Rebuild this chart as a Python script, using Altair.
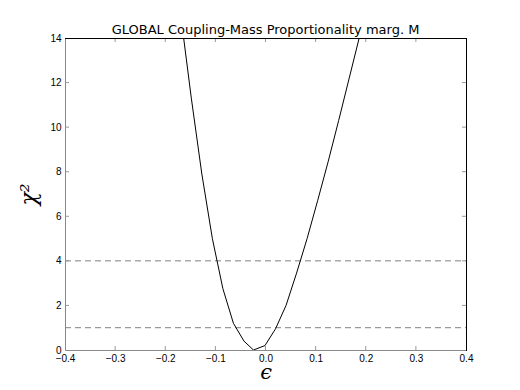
import altair as alt
import pandas as pd

# Curve samples (epsilon, chi^2)
eps = [-0.169, -0.148, -0.127, -0.106, -0.085, -0.064, -0.043, -0.024, -0.001,
       0.020, 0.041, 0.062, 0.083, 0.104, 0.125, 0.146, 0.167, 0.188, 0.209]
chi2 = [15.0, 11.3, 7.9, 5.0, 2.75, 1.2, 0.4, 0.0, 0.2,
        0.95, 2.0, 3.45, 5.0, 6.7, 8.45, 10.3, 12.2, 14.1, 16.0]

levels = [1, 4]
x_ticks = [-0.4, -0.3, -0.2, -0.1, 0.0, 0.1, 0.2, 0.3, 0.4]
y_ticks = [0, 2, 4, 6, 8, 10, 12, 14]
x_inner = [-0.3, -0.2, -0.1, 0.0, 0.1, 0.2, 0.3]
y_inner = [2, 4, 6, 8, 10, 12]

W, H = 401, 312
TL = 4

curve_df = pd.DataFrame({"eps": eps, "chi2": chi2})
lev_df = pd.DataFrame({"chi2": levels})
xt_df = pd.DataFrame({"eps": x_inner})
yt_df = pd.DataFrame({"chi2": y_inner})

xscale = alt.Scale(domain=[-0.4, 0.4], nice=False, zero=False)
yscale = alt.Scale(domain=[0, 14], nice=False, zero=False)

xaxis = alt.Axis(values=x_ticks, format=".1f", labelFlush=False, labelOverlap=False,
                 ticks=False, grid=False, title="ϵ", titleFont="DejaVu Serif",
                 titleFontStyle="italic", titleFontWeight="normal", titleFontSize=21,
                 titleX=W / 2, titleY=28, titleBaseline="alphabetic", titleAlign="center",
                 labelPadding=3)
yaxis = alt.Axis(values=y_ticks, format="d", labelOverlap=False, ticks=False, grid=False,
                 title="χ²", titleFont="DejaVu Serif", titleFontStyle="italic",
                 titleFontWeight="normal", titleFontSize=22, titleAngle=270,
                 titleX=-30, titleY=H / 2, titleAlign="center", titleBaseline="alphabetic",
                 labelPadding=4)

X = lambda: alt.X("eps:Q", scale=xscale, axis=xaxis)
Y = lambda: alt.Y("chi2:Q", scale=yscale, axis=yaxis)

hlines = alt.Chart(lev_df).mark_rule(color="#808080", strokeDash=[6, 4], strokeWidth=1).encode(
    y=Y(), x=alt.value(0), x2=alt.value(W))

line = alt.Chart(curve_df).mark_line(color="black", strokeWidth=1, clip=True).encode(
    x=X(), y=Y())

tick_color = "#999999"
t_bottom = alt.Chart(xt_df).mark_rule(color=tick_color).encode(
    x=X(), y=alt.value(H), y2=alt.value(H - TL))
t_top = alt.Chart(xt_df).mark_rule(color=tick_color).encode(
    x=X(), y=alt.value(0), y2=alt.value(TL))
t_left = alt.Chart(yt_df).mark_rule(color=tick_color).encode(
    y=Y(), x=alt.value(0), x2=alt.value(TL))
t_right = alt.Chart(yt_df).mark_rule(color=tick_color).encode(
    y=Y(), x=alt.value(W), x2=alt.value(W - TL))

frame_top = alt.Chart(lev_df).mark_rule(color="black", strokeWidth=1).encode(
    y=alt.value(0.5), x=alt.value(0), x2=alt.value(W + 1))
frame_right = alt.Chart(lev_df).mark_rule(color="black", strokeWidth=1).encode(
    x=alt.value(W + 0.5), y=alt.value(0), y2=alt.value(H + 1))

chart = alt.layer(hlines, line, t_bottom, t_top, t_left, t_right, frame_top, frame_right).properties(
    width=W, height=H,
    title=alt.TitleParams("GLOBAL Coupling-Mass Proportionality marg. M", font="DejaVu Sans",
                          fontSize=13, fontWeight="normal", color="black", anchor="middle",
                          offset=3, baseline="alphabetic", frame="group", dy=17),
    autosize=alt.AutoSizeParams(type="none"),
    padding={"left": 57, "top": 30, "right": 40, "bottom": 34},
).configure_view(strokeWidth=0).configure_axis(
    domainColor="black", domainWidth=1, labelFont="DejaVu Sans", labelFontSize=11,
    labelColor="black", titleColor="black"
).configure(background="white")

chart.save("out.html", embed_options={"renderer": "svg", "actions": False})
